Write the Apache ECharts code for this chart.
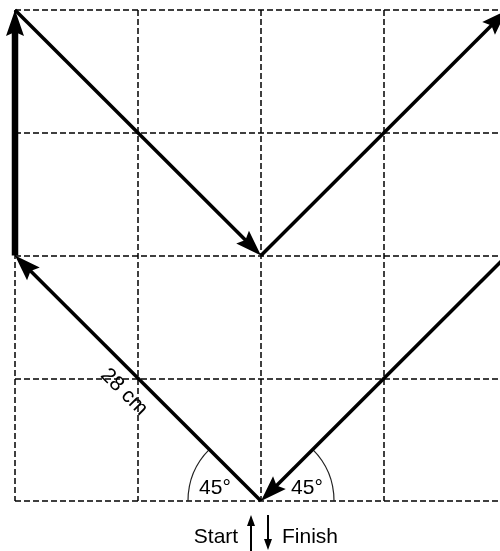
<!DOCTYPE html>
<html>
<head>
<meta charset="utf-8">
<script src="https://cdn.jsdelivr.net/npm/echarts@6/dist/echarts.min.js"></script>
<style>
html,body{margin:0;padding:0;background:#fff;}
#main{width:500px;height:551px;}
</style>
</head>
<body>
<div id="main"></div>
<script>
// Grid cells (each cell = 1 unit, 4 x 4 grid)
const gridTicks = [0, 1, 2, 3, 4];
// Path segments: start and end points in grid units
const segmentStarts = [[2, 0], [0, 2], [0, 4], [2, 2], [4, 2]];
const segmentEnds   = [[0, 2], [0, 4], [2, 2], [4, 4], [2, 0]];
const segmentLabel = '28 cm';
const angleLabels = ['45°', '45°'];
const startLabel = 'Start';
const finishLabel = 'Finish';

const chart = echarts.init(document.getElementById('main'), null, {renderer: 'canvas'});

const segData = segmentStarts.map((s, i) => [s[0], s[1], segmentEnds[i][0], segmentEnds[i][1], i]);

const dashStyle = {color: '#000', width: 1.5, type: [6, 3]};
const FONT = '"Liberation Sans", Arial, sans-serif';

function renderSeg(params, api) {
  const p1 = api.coord([api.value(0), api.value(1)]);
  const p2 = api.coord([api.value(2), api.value(3)]);
  const idx = api.value(4);
  const dx = p2[0] - p1[0], dy = p2[1] - p1[1];
  const len = Math.sqrt(dx * dx + dy * dy);
  const ux = dx / len, uy = dy / len;
  const nx = -uy, ny = ux;
  const L = 26, hw = 9, notch = 4;
  const lw = idx === 1 ? 6.5 : 3.5;
  const endLine = [p2[0] - ux * (L - notch - 1), p2[1] - uy * (L - notch - 1)];
  const bx = p2[0] - ux * L, by = p2[1] - uy * L;
  return {
    type: 'group',
    children: [
      {type: 'line', shape: {x1: p1[0], y1: p1[1], x2: endLine[0], y2: endLine[1]},
       style: {stroke: '#000', lineWidth: lw}},
      {type: 'polygon', shape: {points: [
        [p2[0], p2[1]],
        [bx + nx * hw, by + ny * hw],
        [p2[0] - ux * (L - notch), p2[1] - uy * (L - notch)],
        [bx - nx * hw, by - ny * hw]
      ]}, style: {fill: '#000'}}
    ]
  };
}

const axisCommon = {
  type: 'value', min: gridTicks[0], max: gridTicks[gridTicks.length - 1], interval: 1,
  axisLine: {show: false}, axisTick: {show: false}, axisLabel: {show: false},
  splitLine: {show: true, lineStyle: dashStyle}
};

chart.setOption({
  animation: false,
  backgroundColor: '#fff',
  grid: {left: 15, top: 10, width: 492, height: 491, containLabel: false, outerBoundsMode: 'none'},
  xAxis: axisCommon,
  yAxis: axisCommon,
  series: [{
    type: 'custom',
    renderItem: renderSeg,
    data: segData,
    clip: false,
    silent: true
  }]
});

const c = chart.convertToPixel({gridIndex: 0}, [2, 0]);
const R = 73;
function smallArrow(x, yTip, yTail) {
  const dir = yTip < yTail ? 1 : -1;
  return [
    {type: 'line', shape: {x1: x, y1: yTail, x2: x, y2: yTip + dir * 6}, style: {stroke: '#000', lineWidth: 2}},
    {type: 'polygon', shape: {points: [[x, yTip], [x - 4, yTip + dir * 11], [x + 4, yTip + dir * 11]]}, style: {fill: '#000'}}
  ];
}
const textStyle = (t, x, y, extra) => Object.assign({
  type: 'text', x: x, y: y,
  style: {text: t, fill: '#000', font: '21px ' + FONT, textAlign: 'center', textVerticalAlign: 'middle'}
}, extra || {});

chart.setOption({
  graphic: [
    {type: 'arc', shape: {cx: c[0], cy: c[1], r: R, startAngle: Math.PI, endAngle: Math.PI * 1.25}, style: {stroke: '#222', lineWidth: 1.2, fill: null}},
    {type: 'arc', shape: {cx: c[0], cy: c[1], r: R, startAngle: -Math.PI * 0.25, endAngle: 0}, style: {stroke: '#222', lineWidth: 1.2, fill: null}},
    textStyle(angleLabels[0], 215, 488),
    textStyle(angleLabels[1], 307, 488),
    textStyle(segmentLabel, 124, 392, {rotation: -Math.PI / 4}),
    textStyle(startLabel, 216, 537),
    textStyle(finishLabel, 310, 537),
    ...smallArrow(251, 515, 551),
    ...smallArrow(268, 550, 515)
  ]
});
</script>
</body>
</html>
